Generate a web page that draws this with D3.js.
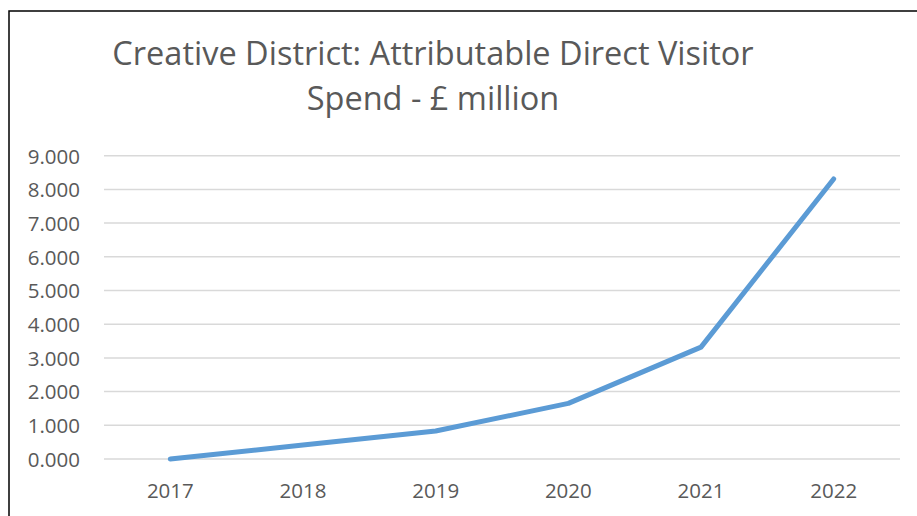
<!DOCTYPE html>
<html>
<head>
<meta charset="utf-8">
<script src="https://cdn.jsdelivr.net/npm/d3@7"></script>
<style>
  body { margin: 0; background: #fff; }
  svg { display: block; }
  svg text { font-family: "Open Sans", sans-serif; }
</style>
</head>
<body>
<div id="chart"></div>
<script>
// chart values
var years = ['2017', '2018', '2019', '2020', '2021', '2022'];
var spend = [0, 0.415, 0.83, 1.65, 3.32, 8.31];
var yTicks = [0, 1, 2, 3, 4, 5, 6, 7, 8, 9];
var titleLines = ['Creative District: Attributable Direct Visitor', 'Spend - £ million'];

var width = 917, height = 516;
var plot = { left: 104, right: 900, top: 155.7, bottom: 459 };

var svg = d3.select('#chart')
  .append('svg')
  .attr('width', width)
  .attr('height', height);

// outer frame, cut off on right and bottom like the screenshot
svg.append('rect')
  .attr('x', 9).attr('y', 11)
  .attr('width', 1000).attr('height', 1000)
  .attr('fill', 'none')
  .attr('stroke', '#000')
  .attr('stroke-width', 1.5);

var x = d3.scaleBand().domain(years).range([plot.left, plot.right]);
var y = d3.scaleLinear().domain([0, 9]).range([plot.bottom, plot.top]);

// gridlines
svg.append('g')
  .selectAll('line')
  .data(yTicks)
  .enter()
  .append('line')
  .attr('x1', plot.left).attr('x2', plot.right)
  .attr('y1', function(d){ return y(d) })
  .attr('y2', function(d){ return y(d) })
  .attr('stroke', '#d9d9d9')
  .attr('stroke-width', 1.5);

// y axis labels
var yAxis = svg.append('g')
  .attr('transform', 'translate(80,0)')
  .call(d3.axisLeft(y).tickValues(yTicks).tickFormat(d3.format('.3f')).tickSize(0).tickPadding(0));
yAxis.select('.domain').remove();
yAxis.selectAll('text')
  .attr('fill', '#595959')
  .style('font-family', '"Open Sans", sans-serif')
  .style('font-size', '20.5px')
  .attr('dy', '0.36em');

// x axis labels
var xAxis = svg.append('g')
  .attr('transform', 'translate(0,' + plot.bottom + ')')
  .call(d3.axisBottom(x).tickSize(0));
xAxis.select('.domain').remove();
xAxis.selectAll('text')
  .attr('fill', '#595959')
  .style('font-family', '"Open Sans", sans-serif')
  .style('font-size', '20.5px')
  .attr('y', 39)
  .attr('dy', 0);

// the series line
var line = d3.line()
  .x(function(d, i){ return x(years[i]) + x.bandwidth() / 2 })
  .y(function(d){ return y(d) });

svg.append('path')
  .datum(spend)
  .attr('d', line)
  .attr('fill', 'none')
  .attr('stroke', '#5b9bd5')
  .attr('stroke-width', 5)
  .attr('stroke-linecap', 'round')
  .attr('stroke-linejoin', 'round');

// title
svg.append('g')
  .selectAll('text')
  .data(titleLines)
  .enter()
  .append('text')
  .attr('x', 433)
  .attr('y', function(d, i){ return 65 + i * 45 })
  .attr('text-anchor', 'middle')
  .attr('fill', '#595959')
  .style('font-size', '32.5px')
  .text(function(d){ return d });
</script>
</body>
</html>
